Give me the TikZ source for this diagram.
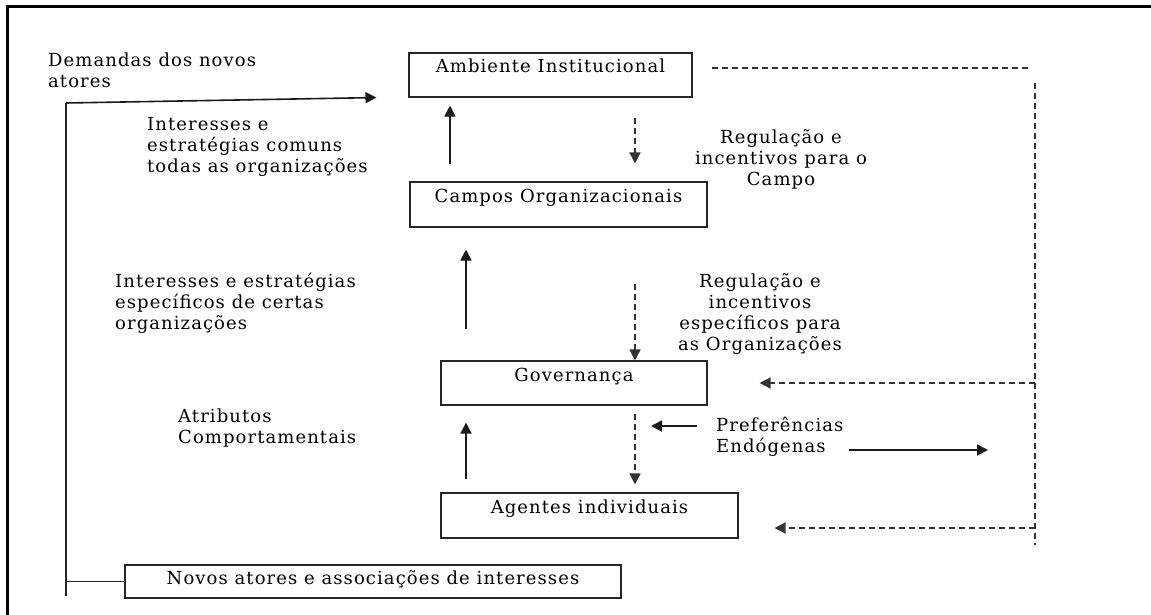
\documentclass[tikz,border=0pt]{standalone}
\usepackage{fontspec}
\setmainfont{DejaVu Serif}[LetterSpace=6]
\usetikzlibrary{arrows.meta,calc,positioning}
\tikzset{
  bx/.style={draw=black!85,line width=1.1pt,inner xsep=0pt,inner ysep=4pt,
    text height=16pt,text depth=20pt},
  lb/.style={inner sep=0pt,align=left},
  lbc/.style={inner sep=0pt,align=center},
  lnk/.style={draw=black!85,line width=1.3pt},
  frm/.style={draw=black,line width=3pt},
  ar/.style={-{Triangle[length=11pt,width=11pt]},line width=1.6pt,draw=black!90},
  dar/.style={-{Triangle[length=11pt,width=11pt]},line width=1.5pt,draw=black!80,
    dash pattern=on 6pt off 4pt},
  dl/.style={line width=1.5pt,draw=black!80,dash pattern=on 6pt off 4pt},
}
\begin{document}
\begin{tikzpicture}[x=1pt,y=-1pt,font=\fontsize{18}{21}\selectfont]
\useasboundingbox (0,0) rectangle (1151,615);
\draw[frm] (7,615) -- (7,7) -- (1152,7);

% the four levels, top to bottom
\node[bx,minimum width=283pt] (amb) at (550.5,75) {Ambiente Institucional};
\node[bx,minimum width=297pt,text depth=21pt] (cam) at (558.5,204.5) {Campos Organizacionais};
\node[bx,minimum width=266pt] (gov) at (574,383) {Governança};
\node[bx,minimum width=297pt,text depth=21pt] (age) at (589.5,515.5) {Agentes individuais};
\node[bx,minimum width=496pt,text height=15pt,text depth=10pt] (nov) at (373,581.5)
  {Novos atores e associações de interesses};

\node[lb,anchor=north west] (dem) at (48,53) {Demandas dos novos\\atores};
\node[lb,anchor=north west] (ic) at (147,117) 
  {Interesses e\\estratégias comuns\\todas as organizações};
\node[lbc,anchor=north] (rc) at (781,129) {Regulação e\\incentivos para o\\Campo};
\node[lb,anchor=north west] (ie) at (115,273)
  {Interesses e estratégias\\específicos de certas\\organizações};
\node[lbc,anchor=north] (re) at (760,273)
  {Regulação e\\incentivos\\específicos para\\as Organizações};
\node[lb,anchor=north west] (at) at (178,409) {Atributos\\Comportamentais};
\node[lb,anchor=north west] (pref) at (716,417) {Preferências\\Endógenas};

% columns of the vertical arrows
\coordinate (ux1) at (450,0);
\coordinate (ux2) at (466,0);
\coordinate (dx) at (635,0);
\draw[ar,shorten <=17pt,shorten >=8pt] (cam.north -| ux1) -- (amb.south -| ux1);
\draw[ar,shorten <=31pt,shorten >=22pt] (gov.north -| ux2) -- (cam.south -| ux2);
\draw[ar,shorten <=13pt,shorten >=17pt] (age.north -| ux2) -- (gov.south -| ux2);
\draw[dar,shorten <=20pt,shorten >=18pt] (amb.south -| dx) -- (cam.north -| dx);
\draw[dar,shorten <=56pt] (cam.south -| dx) -- (gov.north -| dx);
\draw[dar,shorten <=8pt,shorten >=8pt] (gov.south -| dx) -- (age.north -| dx);

% preferences
\coordinate (pin) at (651,426);
\coordinate (pout) at (988,450);
\draw[ar] (pin -| 697,0) -- (pin);
\draw[ar] (pout -| 849,0) -- (pout);

% feedback on the right
\coordinate (fbt) at (1035,83);
\coordinate (fbb) at (1035,545);
\coordinate (fbl) at ($(age.east)+(0,12.5)$);
\draw[dl] ([shift={(19,-7)}]amb.east) -- (1030,68);
\draw[dl] (fbt) -- (fbb);
\draw[dar] (fbt |- gov.east) -- ([xshift=52pt]gov.east);
\draw[dar] (fbt |- fbl) -- ($(fbl)+(36,0)$);

% new actors loop on the left
\coordinate (lpt) at (66,103);
\coordinate (lpb) at (66,596);
\draw[lnk] (lpb) -- (lpt);
\draw[lnk] (nov.west) -- (nov.west -| lpt);
\draw[ar] (lpt) -- ([xshift=-32pt]amb.south west);
\end{tikzpicture}
\end{document}
